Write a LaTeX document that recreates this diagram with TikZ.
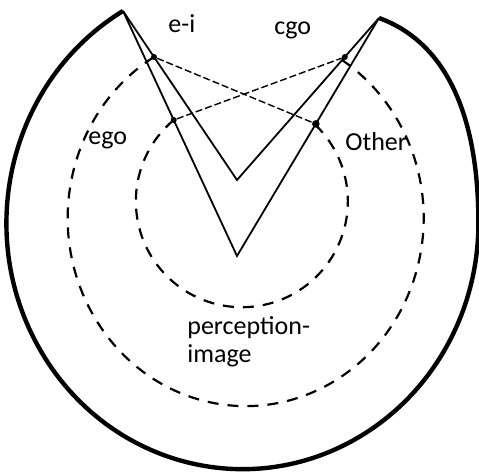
\documentclass[tikz,border=0pt]{standalone}
\usepackage{fontspec}
\setmainfont{Carlito}
\usetikzlibrary{calc}
\usetikzlibrary{positioning}

\begin{document}
\begin{tikzpicture}[x=0.5pt, y=0.5pt, inner sep=0.0pt,
    thinLine/.style={line width=0.9pt},
    dashCircle/.style={line width=1.1pt, dash pattern=on 5.5pt off 4.5pt},
    dashLink/.style={line width=0.7pt, dash pattern=on 3.5pt off 1.5pt},
    dotNode/.style={circle, fill=black, minimum size=3pt},
    tagText/.style={font=\fontsize{13}{14}\selectfont, anchor=base west}]

    \useasboundingbox (0,0) rectangle (479,472);

    \coordinate (apex_left) at (123,461);
    \coordinate (apex_right) at (379,454);
    \coordinate (vertex_inner) at (237,292);
    \coordinate (vertex_outer) at (237,216);

    % outer boundary
    \draw [line width=2.2pt] (apex_left) arc [start angle=120.4, end angle=360, x radius=236, y radius=246] .. controls +(0,110) and (445,430) .. (apex_right);

    \draw [thinLine] (apex_left) -- (vertex_outer) -- (apex_right);
    \draw [thinLine] (apex_left) -- (vertex_inner) -- (apex_right);

    \path (apex_left) -- (vertex_inner) node [dotNode, pos=0.272] (dot_UL) {};
    \path (apex_left) -- (vertex_outer) node [dotNode, pos=0.445] (dot_LL) {};
    \path (apex_right) -- (vertex_inner) node [dotNode, pos=0.241] (dot_UR) {};
    \path (apex_right) -- (vertex_outer) node [dotNode, minimum size=3.8pt, pos=0.445] (dot_LR) {};

    \draw [dashLink] (dot_UL) -- (dot_LR);
    \draw [dashLink] (dot_LL) -- (dot_UR);

    \draw [dashCircle] (dot_LL.center) arc [start angle=130, end angle=405, radius=106];
    \draw [dashCircle] (dot_UL.center) arc [start angle=121, end angle=417, x radius=178, y radius=188];

    \node [tagText] (txt_ei) at (168,439) {e-i};
    \node [tagText] (txt_cgo) at (274,437) {cgo};
    \node [tagText] (txt_ego) at (88,327) {ego};
    \node [tagText] (txt_other) at (345,321) {Other};
    \node [tagText, align=left] (txt_percept) at (187,109) {perception-\\image};
\end{tikzpicture}
\end{document}
